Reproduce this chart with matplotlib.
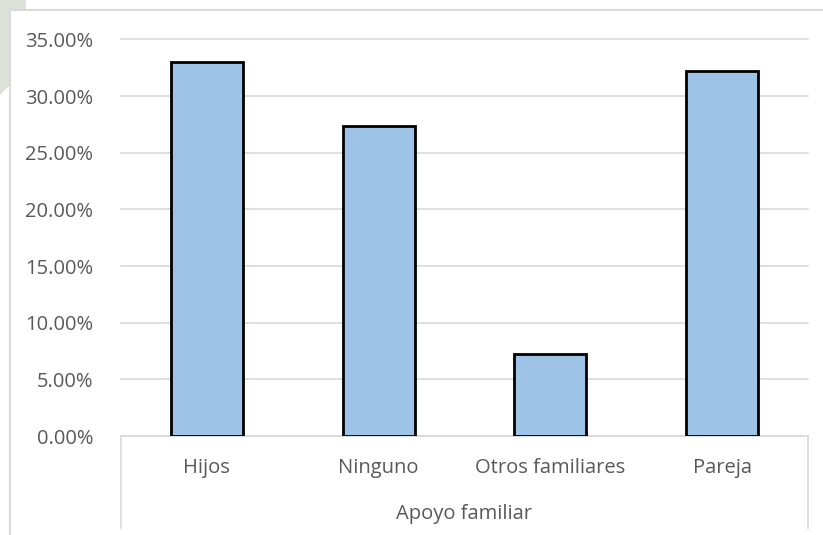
import matplotlib
matplotlib.use("Agg")
import matplotlib.pyplot as plt
from matplotlib.patches import Polygon
from matplotlib.lines import Line2D
from matplotlib.ticker import FuncFormatter, MultipleLocator

categories = ["Hijos", "Ninguno", "Otros familiares", "Pareja"]
values = [0.3305, 0.2740, 0.0728, 0.3225]
group_label = "Apoyo familiar"

plt.rcParams["font.family"] = ["Open Sans", "DejaVu Sans"]
text_color = "#595959"
grid_color = "#D9D9D9"
font_size = 14.5

W, H = 823, 535
fig = plt.figure(figsize=(W / 100, H / 100), dpi=100)
fig.patch.set_facecolor("white")

# decorative shape in the top-left corner, outside the chart frame
fig.patches.append(Polygon([(0, 1), (26 / W, 1), (26 / W, 1 - 10 / H),
                            (10 / W, 1 - 10 / H), (10 / W, 1 - 85 / H), (0, 1 - 95 / H)],
                           closed=True, transform=fig.transFigure,
                           facecolor="#DCE1DA", edgecolor="none", zorder=0))
# chart area frame
fig.add_artist(Line2D([10 / W, 1], [1 - 10 / H, 1 - 10 / H], transform=fig.transFigure,
                      color=grid_color, lw=1.5, zorder=1))
fig.add_artist(Line2D([10 / W, 10 / W], [0, 1 - 10 / H], transform=fig.transFigure,
                      color=grid_color, lw=1.5, zorder=1))

left, right = 121 / W, 808 / W
bottom, top = (H - 436) / H, (H - 39.5) / H
ax = fig.add_axes([left, bottom, right - left, top - bottom])
ax.set_zorder(2)
ax.set_facecolor("none")

x = range(len(categories))
ax.bar(x, values, width=0.42, color="#9DC3E6", edgecolor="black", linewidth=2.0, zorder=3)

ax.set_xlim(-0.5, len(categories) - 0.5)
ax.set_ylim(0, 0.35)
ax.yaxis.set_major_locator(MultipleLocator(0.05))
ax.yaxis.set_major_formatter(FuncFormatter(lambda v, p: f"{v * 100:.2f}%"))
ax.grid(axis="y", color=grid_color, linewidth=1.2, zorder=0)
for gl in ax.get_ygridlines():
    gl.set_clip_on(False)
ax.set_axisbelow(True)

for s in ["top", "right", "left"]:
    ax.spines[s].set_visible(False)
ax.spines["bottom"].set_color(grid_color)
ax.spines["bottom"].set_linewidth(1.2)

ax.tick_params(axis="y", length=0, pad=20, labelsize=font_size, labelcolor=text_color)
ax.set_xticks(list(x))
ax.set_xticklabels(categories)
ax.tick_params(axis="x", length=0, pad=16, labelsize=font_size, labelcolor=text_color)

# outer box of the two-level category axis
ax_h = 436 - 39.5
box_bottom = -(528 - 436) / ax_h
for xv in (0, 1):
    ax.add_line(Line2D([xv, xv], [0, box_bottom], transform=ax.transAxes,
                       color=grid_color, lw=1.2, clip_on=False))
ax.text(0.5, -(514 - 436) / ax_h, group_label, transform=ax.transAxes,
        ha="center", va="center", fontsize=font_size, color=text_color)

fig.savefig("out.png", dpi=100, facecolor="white")
